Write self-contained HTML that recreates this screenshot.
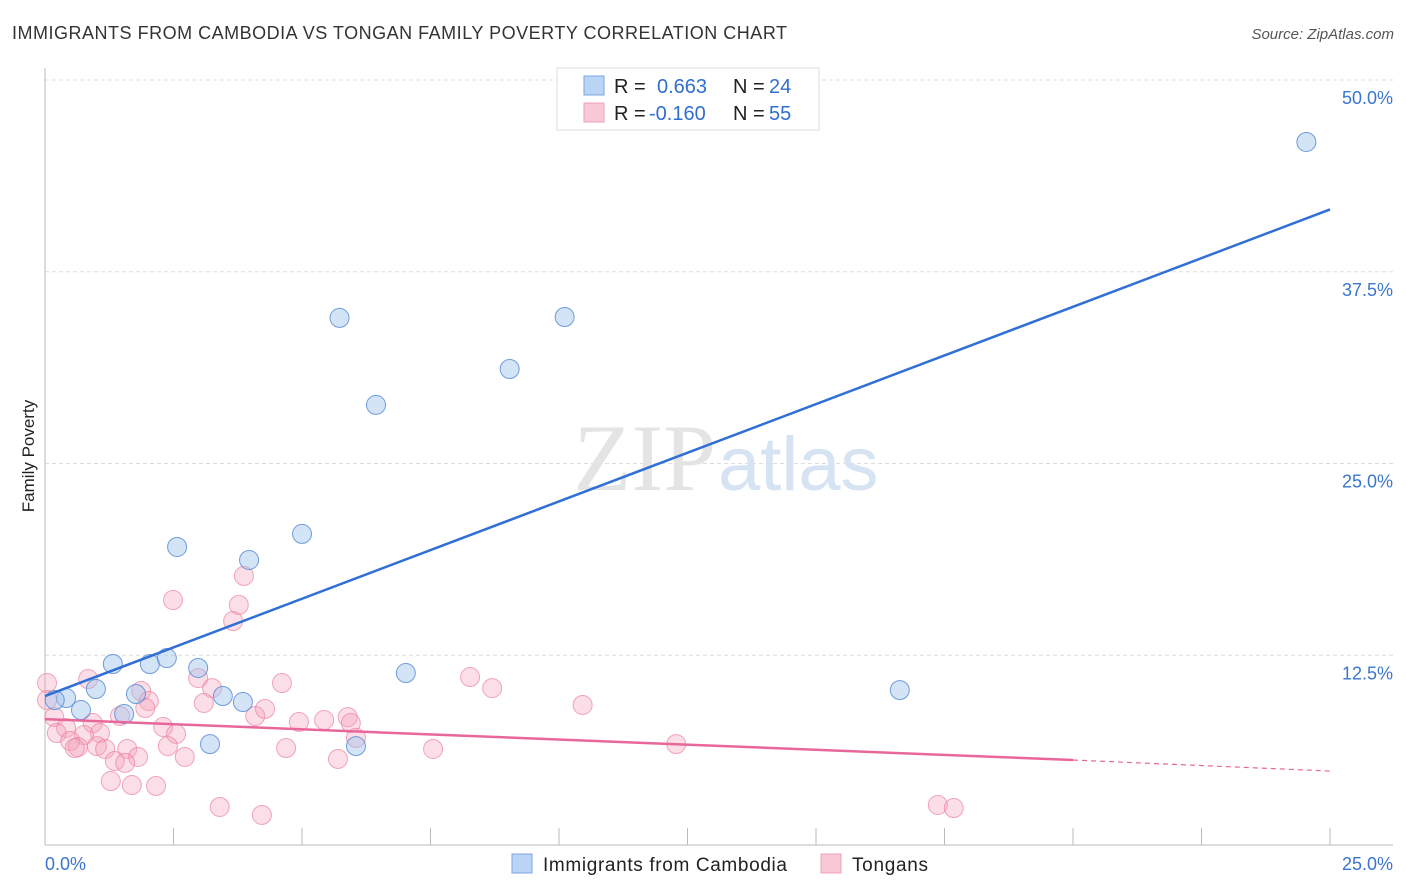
<!DOCTYPE html>
<html><head><meta charset="utf-8"><style>
body{margin:0;background:#fff;font-family:"Liberation Sans",sans-serif;}
svg{display:block}
</style></head><body>
<svg id="c" width="1406" height="892">
<text x="12" y="39" font-size="18" fill="#333" textLength="775">IMMIGRANTS FROM CAMBODIA VS TONGAN FAMILY POVERTY CORRELATION CHART</text>
<text x="1394" y="39" font-size="15" fill="#555" font-style="italic" text-anchor="end">Source: ZipAtlas.com</text>
<text x="34" y="456" font-size="17" fill="#222" text-anchor="middle" transform="rotate(-90 34 456)">Family Poverty</text>
<g id="grid"></g>
<text x="716" y="490" font-size="95" fill="#e4e4e4" text-anchor="end" font-family="Liberation Serif,serif">ZIP</text>
<text x="718" y="490" font-size="76" fill="#d6e3f3">atlas</text>
<g id="pts"></g>
<g id="lines"></g>
<g>
<rect x="557" y="68" width="262" height="62" fill="#fff" stroke="#ddd"/>
<rect x="584" y="76" width="20" height="19" fill="#b9d4f4" stroke="#7aa6e0"/>
<rect x="584" y="103" width="20" height="19" fill="#f9c8d6" stroke="#eea0b6"/>
<text x="614" y="93" font-size="20" fill="#222">R =</text><text x="657" y="93" font-size="20" fill="#2f6fd0">0.663</text>
<text x="733" y="93" font-size="20" fill="#222">N =</text><text x="769" y="93" font-size="20" fill="#2f6fd0">24</text>
<text x="614" y="120" font-size="20" fill="#222">R =</text><text x="649" y="120" font-size="20" fill="#2f6fd0">-0.160</text>
<text x="733" y="120" font-size="20" fill="#222">N =</text><text x="769" y="120" font-size="20" fill="#2f6fd0">55</text>
</g>
<g>
<rect x="512" y="854" width="20" height="19" fill="#b9d4f4" stroke="#7aa6e0"/>
<text x="543" y="871" font-size="19" fill="#222" textLength="244">Immigrants from Cambodia</text>
<rect x="821" y="854" width="20" height="19" fill="#f9c8d6" stroke="#eea0b6"/>
<text x="852" y="871" font-size="19" fill="#222" textLength="76">Tongans</text>
</g>
</svg>
<script>
const yTicks=[12.5,25,37.5,50];
const yTickLabels=["12.5%","25.0%","37.5%","50.0%"];
const xEndLabels=["0.0%","25.0%"];
const blueX=[24.54,5.73,10.11,9.04,6.44,5.0,2.57,3.97,1.32,2.04,2.37,2.98,7.02,16.63,0.99,1.77,3.46,3.85,0.41,0.19,0.70,1.54,3.21,6.05];
const blueY=[45.96,34.49,34.55,31.16,28.82,20.41,19.56,18.71,11.93,11.93,12.32,11.67,11.34,10.23,10.30,9.97,9.84,9.45,9.71,9.58,8.93,8.67,6.71,6.58];
const pinkX=[0.04,0.84,2.49,3.87,3.77,3.66,4.61,3.25,2.98,1.87,2.02,1.95,8.27,8.70,10.46,1.46,0.93,0.18,0.41,1.07,0.23,0.76,0.49,0.64,0.58,1.01,1.17,1.60,1.81,1.36,1.56,2.30,2.55,2.39,2.72,3.09,4.09,4.28,4.94,5.43,5.89,5.95,6.05,4.69,5.70,7.55,12.28,1.28,1.69,2.16,3.40,4.22,17.37,17.68,0.04];
const pinkY=[10.69,10.95,16.10,17.67,15.78,14.73,10.69,10.36,11.01,10.17,9.52,9.06,11.08,10.36,9.26,8.54,8.08,8.47,7.76,7.43,7.43,7.30,6.91,6.52,6.45,6.58,6.39,6.39,5.87,5.61,5.48,7.82,7.37,6.58,5.87,9.39,8.54,9.00,8.15,8.28,8.47,8.08,7.11,6.45,5.74,6.39,6.71,4.30,4.04,3.98,2.61,2.09,2.74,2.54,9.58];
const blueLine=[0,9.84,25,41.56];
const pinkLine=[0,8.34,20,5.67,25,4.95];
const X=v=>45+v/25*1285, Y=v=>847-v/12.5*191.75;
const NS="http://www.w3.org/2000/svg";
function mk(t,a,p){const e=document.createElementNS(NS,t);for(const k in a)e.setAttribute(k,a[k]);p.appendChild(e);return e;}
const g=document.getElementById('grid');
yTicks.forEach((t,i)=>{
 const l=mk('line',{x1:45,x2:1393,y1:Y(t),y2:Y(t),stroke:'#ddd','stroke-dasharray':'4,3'},g);
 
 
 const tx=mk('text',{x:1393,y:Y(t)+24,'font-size':18,fill:'#3a75cf','text-anchor':'end'},g);
 tx.textContent=yTickLabels[i];
 
 
});
const ax=mk('line',{x1:45,x2:45,y1:68,y2:845,stroke:'#bbb'},g);


const bx=mk('line',{x1:45,x2:1393,y1:845,y2:845,stroke:'#bbb'},g);


for(let i=0;i<=10;i++){const t=mk('line',{x1:X(i*2.5),x2:X(i*2.5),y1:828,y2:845,stroke:'#bbb'},g);
 
 }
const l0=mk('text',{x:45,y:870,'font-size':18,fill:'#3a75cf'},g);l0.textContent=xEndLabels[0];


const l1=mk('text',{x:1393,y:870,'font-size':18,fill:'#3a75cf','text-anchor':'end'},g);l1.textContent=xEndLabels[1];


const P=document.getElementById('pts');
pinkX.forEach((x,i)=>{const c=mk('circle',{cx:X(x),cy:Y(pinkY[i]),r:9.5,fill:'rgba(244,160,185,0.35)',stroke:'rgba(236,130,160,0.7)'},P);
 
 });
blueX.forEach((x,i)=>{const c=mk('circle',{cx:X(x),cy:Y(blueY[i]),r:9.5,fill:'rgba(160,196,238,0.45)',stroke:'rgba(80,135,210,0.8)'},P);
 
 });
const L=document.getElementById('lines');
const b=mk('line',{x1:X(blueLine[0]),y1:Y(blueLine[1]),x2:X(blueLine[2]),y2:Y(blueLine[3]),stroke:'#2f6fd6','stroke-width':2.5},L);


const p1=mk('line',{x1:X(pinkLine[0]),y1:Y(pinkLine[1]),x2:X(pinkLine[2]),y2:Y(pinkLine[3]),stroke:'#e8679a','stroke-width':2.5},L);


const p2=mk('line',{x1:X(pinkLine[2]),y1:Y(pinkLine[3]),x2:X(pinkLine[4]),y2:Y(pinkLine[5]),stroke:'#e8679a','stroke-width':1.2,'stroke-dasharray':'5,4'},L);


</script>
</body></html>
